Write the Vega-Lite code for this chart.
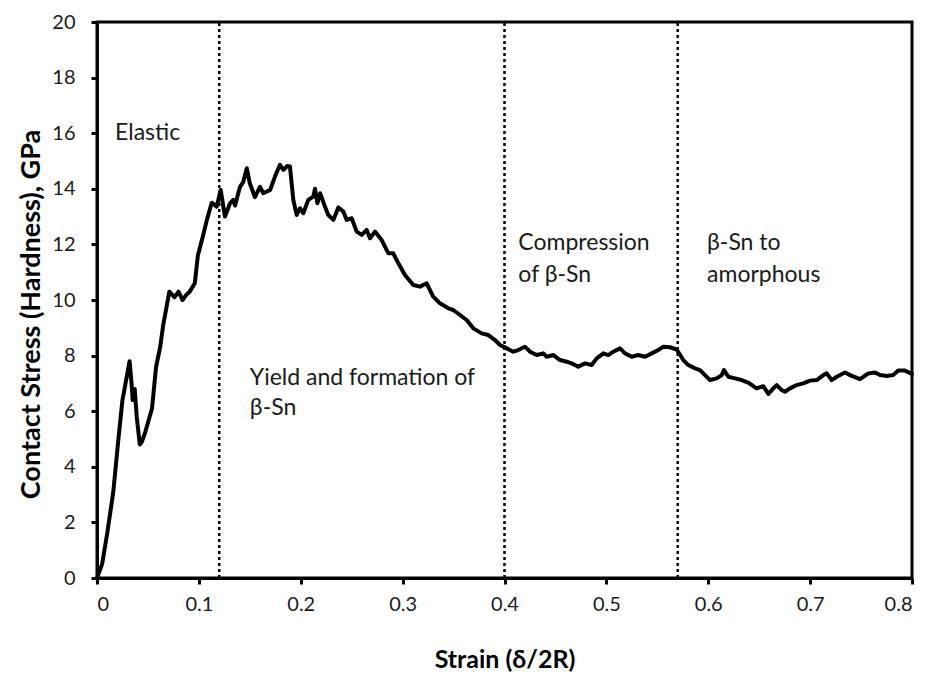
{
  "$schema": "https://vega.github.io/schema/vega-lite/v6.json",
  "width": 815,
  "height": 556,
  "autosize": "none",
  "padding": {"left": 97, "top": 22, "right": 20, "bottom": 98},
  "background": "white",
  "config": {
    "font": "Lato",
    "view": {"stroke": "black", "strokeWidth": 3},
    "axis": {
      "grid": false,
      "domainColor": "black",
      "domainWidth": 3,
      "tickColor": "black",
      "tickWidth": 3,
      "tickSize": 6,
      "labelFont": "Lato",
      "labelFontSize": 20,
      "labelColor": "#1a1a1a",
      "titleFont": "Lato",
      "titleFontWeight": "bold",
      "titleColor": "black"
    }
  },
  "datasets": {
    "curve": [
      {"strain": 0.0, "stress": 0.0},
      {"strain": 0.005, "stress": 0.5},
      {"strain": 0.01, "stress": 1.6},
      {"strain": 0.016, "stress": 3.1},
      {"strain": 0.021, "stress": 5.0},
      {"strain": 0.025, "stress": 6.4},
      {"strain": 0.029, "stress": 7.2},
      {"strain": 0.032, "stress": 7.8},
      {"strain": 0.034, "stress": 6.96},
      {"strain": 0.035, "stress": 6.4},
      {"strain": 0.037, "stress": 6.8},
      {"strain": 0.039, "stress": 5.8},
      {"strain": 0.042, "stress": 4.8},
      {"strain": 0.044, "stress": 4.9},
      {"strain": 0.047, "stress": 5.2},
      {"strain": 0.054, "stress": 6.1},
      {"strain": 0.058, "stress": 7.6},
      {"strain": 0.062, "stress": 8.3},
      {"strain": 0.065, "stress": 9.1},
      {"strain": 0.071, "stress": 10.3},
      {"strain": 0.076, "stress": 10.1},
      {"strain": 0.08, "stress": 10.3},
      {"strain": 0.084, "stress": 10.0},
      {"strain": 0.088, "stress": 10.2},
      {"strain": 0.091, "stress": 10.3},
      {"strain": 0.096, "stress": 10.6},
      {"strain": 0.099, "stress": 11.6},
      {"strain": 0.104, "stress": 12.3},
      {"strain": 0.108, "stress": 12.9},
      {"strain": 0.1126, "stress": 13.5},
      {"strain": 0.1175, "stress": 13.36},
      {"strain": 0.1214, "stress": 13.96},
      {"strain": 0.1256, "stress": 13.0},
      {"strain": 0.1306, "stress": 13.48},
      {"strain": 0.1338, "stress": 13.6},
      {"strain": 0.1355, "stress": 13.4},
      {"strain": 0.1404, "stress": 14.07},
      {"strain": 0.1436, "stress": 14.25},
      {"strain": 0.147, "stress": 14.74},
      {"strain": 0.15, "stress": 14.2},
      {"strain": 0.155, "stress": 13.7},
      {"strain": 0.16, "stress": 14.07},
      {"strain": 0.1633, "stress": 13.84},
      {"strain": 0.17, "stress": 13.96},
      {"strain": 0.1747, "stress": 14.44},
      {"strain": 0.1796, "stress": 14.86},
      {"strain": 0.183, "stress": 14.68},
      {"strain": 0.1868, "stress": 14.82},
      {"strain": 0.1894, "stress": 14.8},
      {"strain": 0.1927, "stress": 13.6},
      {"strain": 0.196, "stress": 13.06},
      {"strain": 0.1993, "stress": 13.3},
      {"strain": 0.2025, "stress": 13.12},
      {"strain": 0.2074, "stress": 13.6},
      {"strain": 0.2123, "stress": 13.72},
      {"strain": 0.214, "stress": 14.0},
      {"strain": 0.2163, "stress": 13.48},
      {"strain": 0.219, "stress": 13.84},
      {"strain": 0.2238, "stress": 13.36},
      {"strain": 0.227, "stress": 13.06},
      {"strain": 0.232, "stress": 12.88},
      {"strain": 0.2369, "stress": 13.33},
      {"strain": 0.2418, "stress": 13.18},
      {"strain": 0.2451, "stress": 12.88},
      {"strain": 0.25, "stress": 12.94},
      {"strain": 0.2549, "stress": 12.46},
      {"strain": 0.2598, "stress": 12.34},
      {"strain": 0.2647, "stress": 12.52},
      {"strain": 0.268, "stress": 12.22},
      {"strain": 0.2729, "stress": 12.46},
      {"strain": 0.2794, "stress": 12.16},
      {"strain": 0.286, "stress": 11.68},
      {"strain": 0.2908, "stress": 11.68},
      {"strain": 0.2958, "stress": 11.32},
      {"strain": 0.3023, "stress": 10.9},
      {"strain": 0.3105, "stress": 10.54},
      {"strain": 0.317, "stress": 10.48},
      {"strain": 0.3236, "stress": 10.6},
      {"strain": 0.33, "stress": 10.12},
      {"strain": 0.3367, "stress": 9.88},
      {"strain": 0.3449, "stress": 9.7},
      {"strain": 0.3497, "stress": 9.64},
      {"strain": 0.3563, "stress": 9.46},
      {"strain": 0.3629, "stress": 9.28},
      {"strain": 0.3694, "stress": 8.98},
      {"strain": 0.3776, "stress": 8.8},
      {"strain": 0.3841, "stress": 8.74},
      {"strain": 0.3907, "stress": 8.56},
      {"strain": 0.3956, "stress": 8.38},
      {"strain": 0.4022, "stress": 8.26},
      {"strain": 0.4086, "stress": 8.14},
      {"strain": 0.4135, "stress": 8.2},
      {"strain": 0.4201, "stress": 8.32},
      {"strain": 0.425, "stress": 8.14},
      {"strain": 0.4316, "stress": 8.02},
      {"strain": 0.4381, "stress": 8.08},
      {"strain": 0.4414, "stress": 7.96},
      {"strain": 0.4479, "stress": 8.02},
      {"strain": 0.4545, "stress": 7.84},
      {"strain": 0.461, "stress": 7.78},
      {"strain": 0.466, "stress": 7.72},
      {"strain": 0.4724, "stress": 7.6},
      {"strain": 0.479, "stress": 7.72},
      {"strain": 0.4856, "stress": 7.66},
      {"strain": 0.4905, "stress": 7.9},
      {"strain": 0.497, "stress": 8.08},
      {"strain": 0.5019, "stress": 8.02},
      {"strain": 0.5068, "stress": 8.14},
      {"strain": 0.5134, "stress": 8.26},
      {"strain": 0.5183, "stress": 8.08},
      {"strain": 0.5249, "stress": 7.96},
      {"strain": 0.5313, "stress": 8.02},
      {"strain": 0.5379, "stress": 7.96},
      {"strain": 0.5445, "stress": 8.08},
      {"strain": 0.551, "stress": 8.2},
      {"strain": 0.5559, "stress": 8.32},
      {"strain": 0.5624, "stress": 8.3},
      {"strain": 0.569, "stress": 8.22},
      {"strain": 0.5755, "stress": 7.84},
      {"strain": 0.5804, "stress": 7.66},
      {"strain": 0.587, "stress": 7.54},
      {"strain": 0.5919, "stress": 7.48},
      {"strain": 0.5968, "stress": 7.3},
      {"strain": 0.6017, "stress": 7.12},
      {"strain": 0.6083, "stress": 7.18},
      {"strain": 0.6132, "stress": 7.3},
      {"strain": 0.6155, "stress": 7.48},
      {"strain": 0.6197, "stress": 7.24},
      {"strain": 0.6263, "stress": 7.18},
      {"strain": 0.6328, "stress": 7.12},
      {"strain": 0.6393, "stress": 7.03},
      {"strain": 0.6475, "stress": 6.82},
      {"strain": 0.654, "stress": 6.9},
      {"strain": 0.659, "stress": 6.62},
      {"strain": 0.6639, "stress": 6.82},
      {"strain": 0.6672, "stress": 6.94},
      {"strain": 0.6721, "stress": 6.76},
      {"strain": 0.6753, "stress": 6.7},
      {"strain": 0.6802, "stress": 6.82},
      {"strain": 0.6868, "stress": 6.94},
      {"strain": 0.6933, "stress": 7.0},
      {"strain": 0.6999, "stress": 7.1},
      {"strain": 0.7065, "stress": 7.12},
      {"strain": 0.713, "stress": 7.3},
      {"strain": 0.7162, "stress": 7.36},
      {"strain": 0.7212, "stress": 7.12},
      {"strain": 0.7261, "stress": 7.24},
      {"strain": 0.7342, "stress": 7.39},
      {"strain": 0.7408, "stress": 7.27},
      {"strain": 0.749, "stress": 7.15},
      {"strain": 0.7571, "stress": 7.36},
      {"strain": 0.7637, "stress": 7.39},
      {"strain": 0.7686, "stress": 7.3},
      {"strain": 0.7751, "stress": 7.27},
      {"strain": 0.7816, "stress": 7.3},
      {"strain": 0.7865, "stress": 7.46},
      {"strain": 0.7931, "stress": 7.46},
      {"strain": 0.8, "stress": 7.34}
    ],
    "boundaries": [
      {"strain": 0.12},
      {"strain": 0.4},
      {"strain": 0.57}
    ],
    "regions": [
      {"strain": 0.0177, "stress": 15.74, "label": "Elastic"},
      {"strain": 0.150, "stress": 6.94, "label": "Yield and formation of"},
      {"strain": 0.150, "stress": 5.86, "label": "β-Sn"},
      {"strain": 0.4136, "stress": 11.8, "label": "Compression"},
      {"strain": 0.4136, "stress": 10.66, "label": "of β-Sn"},
      {"strain": 0.5988, "stress": 11.8, "label": "β-Sn to"},
      {"strain": 0.5988, "stress": 10.66, "label": "amorphous"}
    ]
  },
  "layer": [
    {
      "data": {"name": "boundaries"},
      "mark": {"type": "rule", "color": "black", "strokeWidth": 2.5, "strokeDash": [3, 3]},
      "encoding": {
        "x": {"field": "strain", "type": "quantitative", "scale": {"domain": [0, 0.8], "nice": false}},
        "y": {"datum": 0, "type": "quantitative"},
        "y2": {"datum": 20}
      }
    },
    {
      "data": {"name": "regions"},
      "mark": {"type": "text", "align": "left", "baseline": "alphabetic", "font": "Lato", "fontSize": 23, "color": "#1a1a1a"},
      "encoding": {
        "x": {"field": "strain", "type": "quantitative"},
        "y": {"field": "stress", "type": "quantitative"},
        "text": {"field": "label"}
      }
    },
    {
      "data": {"name": "curve"},
      "mark": {"type": "line", "color": "black", "strokeWidth": 4, "strokeJoin": "round", "strokeCap": "round"},
      "encoding": {
        "x": {
          "field": "strain",
          "type": "quantitative",
          "scale": {"domain": [0, 0.8], "nice": false},
          "axis": {
            "title": "Strain (δ/2R)",
            "titleFontSize": 25,
            "titleBaseline": "alphabetic",
            "titleY": 89,
            "values": [0, 0.1, 0.2, 0.3, 0.4, 0.5, 0.6, 0.7, 0.8],
            "labelExpr": "datum.value == 0 ? '0' : format(datum.value, '.1f')",
            "labelPadding": 10
          }
        },
        "y": {
          "field": "stress",
          "type": "quantitative",
          "scale": {"domain": [0, 20], "nice": false},
          "axis": {
            "title": "Contact Stress (Hardness), GPa",
            "titleFontSize": 27,
            "titleBaseline": "alphabetic",
            "titleX": -58,
            "titleY": 292,
            "values": [0, 2, 4, 6, 8, 10, 12, 14, 16, 18, 20],
            "labelPadding": 16
          }
        }
      }
    }
  ]
}
